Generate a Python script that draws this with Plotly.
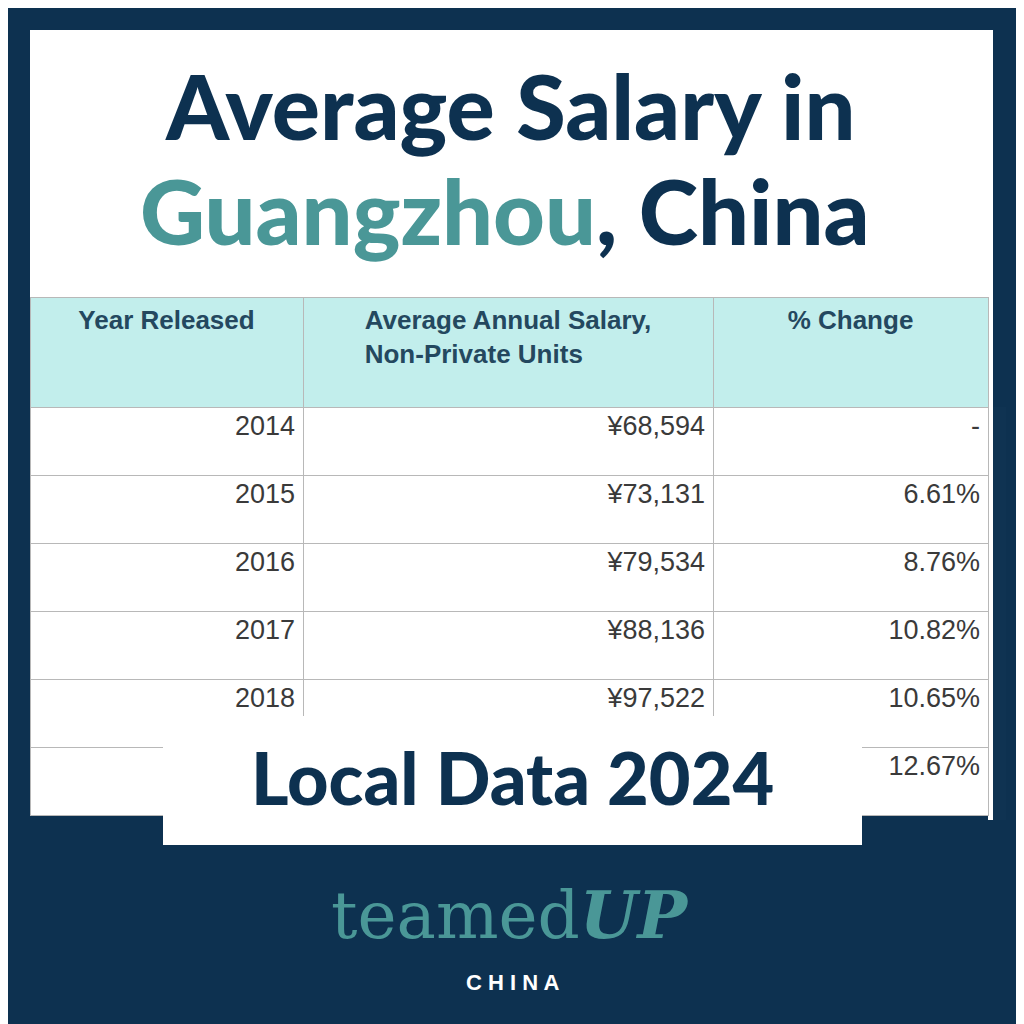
import plotly.graph_objects as go

years = ["2014", "2015", "2016", "2017", "2018", "2019"]
salaries = ["¥68,594", "¥73,131", "¥79,534", "¥88,136", "¥97,522", "¥109,878"]
changes = ["-", "6.61%", "8.76%", "10.82%", "10.65%", "12.67%"]
headers = ["Year Released", "Average Annual Salary,<br>Non-Private Units", "% Change"]

NAVY = "#0d3150"
TEAL = "#4a9797"
OFF = 8  # page offset of the rendered figure

def px(v):
    return v - OFF

fig = go.Figure()
fig.add_trace(go.Table(
    domain=dict(x=[px(30) / 1024, px(988) / 1024],
                y=[1 - px(820) / 1024, 1 - px(297) / 1024]),
    columnwidth=[273, 410, 275],
    header=dict(values=["<b>%s</b>" % h for h in headers],
                fill_color="#c2eeec", line_color="#b8b8b8",
                align="center", height=110,
                font=dict(family="Liberation Sans", size=26, color="#24485f")),
    cells=dict(values=[years, salaries, changes],
               fill_color="white", line_color="#b8b8b8",
               align="right", height=68,
               font=dict(family="Liberation Sans", size=27, color="#3a3a3a")),
))

fig.update_layout(
    width=1024, height=1024, margin=dict(l=0, r=0, t=0, b=0),
    paper_bgcolor=NAVY, plot_bgcolor=NAVY,
    xaxis=dict(visible=False, range=[OFF, 1024 + OFF]),
    yaxis=dict(visible=False, range=[1024 + OFF, OFF]),
    shapes=[
        dict(type="rect", xref="x", yref="y", x0=30, x1=993, y0=30, y1=297,
             fillcolor="white", line_width=0, layer="below"),
        dict(type="rect", xref="x", yref="y", x0=988, x1=993, y0=297, y1=820,
             fillcolor="white", line_width=0, layer="below"),
        dict(type="rect", xref="x", yref="y", x0=163, x1=862, y0=716, y1=845,
             fillcolor="white", line_width=0, layer="above"),
    ],
    annotations=[
        dict(x=510, y=105, xref="x", yref="y", showarrow=False,
             text="Average Salary in",
             font=dict(family="Lato", size=90, weight=900, color=NAVY)),
        dict(x=505, y=210, xref="x", yref="y", showarrow=False,
             text="<span style='color:%s'>Guangzhou</span>, China" % TEAL,
             font=dict(family="Lato", size=90, weight=900, color=NAVY)),
        dict(x=512, y=777, xref="x", yref="y", showarrow=False,
             text="Local Data 2024",
             font=dict(family="Lato", size=72, weight=900, color=NAVY)),
        dict(x=510, y=915, xref="x", yref="y", showarrow=False,
             text="teamed<b><i>UP</i></b>",
             font=dict(family="DejaVu Serif", size=66, color=TEAL)),
        dict(x=512, y=982, xref="x", yref="y", showarrow=False,
             text="<b>C H I N A</b>",
             font=dict(family="Liberation Sans", size=22, color="white")),
    ],
)

fig.write_html("out.html")
